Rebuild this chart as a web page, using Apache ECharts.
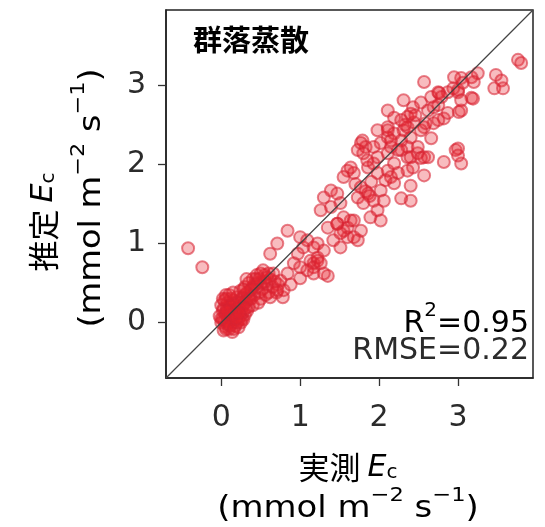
<!DOCTYPE html>
<html>
<head>
<meta charset="utf-8">
<script src="https://cdn.jsdelivr.net/npm/echarts@6/dist/echarts.min.js"></script>
<style>html,body{margin:0;padding:0;background:#fff;}#c{width:545px;height:527px;}</style>
</head>
<body>
<div id="c"></div>
<script>
// Axis range (both axes) and ticks
const axisMin = -0.7;
const axisMax = 3.95;
const tickValues = [0, 1, 2, 3];

const titleText = '群落蒸散';
const r2Text = '0.95';
const rmseText = '0.22';

// measured (x) vs estimated (y) Ec, mmol m-2 s-1
const blobPoints = [
  [0.02,0.05],[0.05,0.12],[0.08,0.02],[0.10,0.18],[0.12,0.08],[0.15,0.00],[0.05,-0.05],[0.10,-0.08],
  [0.00,0.22],[0.04,0.28],[0.08,0.25],[0.14,0.15],[0.18,0.22],[0.20,0.10],[0.22,0.03],[0.18,-0.04],
  [0.25,0.15],[0.28,0.22],[0.30,0.10],[0.12,0.30],[0.20,0.32],[0.26,0.30],[0.32,0.28],[0.35,0.20],
  [0.38,0.30],[0.40,0.22],[0.42,0.35],[0.36,0.40],[0.45,0.45],[0.48,0.38],[0.50,0.50],[0.52,0.42],
  [0.44,0.55],[0.55,0.60],[0.58,0.48],[0.60,0.38],[0.65,0.45],[0.06,0.35],[0.02,0.15],[-0.02,0.08],
  [0.00,0.00],[0.03,-0.10],[0.14,-0.12],[0.22,-0.06],[0.26,0.05],[0.16,0.25],[0.24,0.40],[0.30,0.35],
  [0.10,0.12],[0.07,0.19],[0.13,0.04],[0.17,0.10],[0.19,0.17],[0.09,0.08],[0.04,0.02],[0.11,0.22],
  [0.23,0.20],[0.27,0.12],[0.33,0.15],[0.50,0.30],[0.56,0.35],[0.47,0.25],[0.62,0.55],[0.68,0.52],
  [0.72,0.48],[0.70,0.38],[0.78,0.32],[0.06,0.10],[0.12,0.14],[0.16,0.05],[0.08,-0.02],[0.20,0.26],
  [0.34,0.33],[0.40,0.45],[0.46,0.50],
  [0.00,0.05],[0.03,0.18],[0.06,0.30],[0.09,0.00],[0.12,0.20],[0.15,0.28],[0.18,0.12],[0.21,0.18],
  [0.24,0.25],[0.27,0.32],[0.30,0.25],[0.33,0.38],[0.36,0.30],[0.06,-0.08],[0.11,-0.04],[0.16,-0.08],
  [0.20,0.00],[0.24,0.08],[0.28,0.04],[0.31,0.18],[0.02,0.30],[0.10,0.35],[0.15,0.38],[0.30,0.45],
  [0.35,0.50],[0.40,0.55],[0.45,0.60],[0.50,0.62],[0.55,0.52],[0.60,0.62],[0.38,0.42],[0.42,0.48],
  [0.48,0.55],[0.28,0.42],[0.32,0.55],[0.25,0.00],[0.13,0.10],[0.07,0.14],[0.19,0.05],[0.23,0.12]
];
const lowPoints = [
  [-0.42,0.94],[-0.24,0.70],
  [0.84,1.16],[0.71,1.00],[0.62,0.87],[1.00,1.08],[1.04,0.95],[0.97,0.87],[0.92,0.75],[1.00,0.70],
  [1.13,0.78],[1.22,1.00],[1.30,0.91],[1.17,0.75],[1.22,0.78],[1.35,0.59],[1.00,0.56],[0.84,0.62],
  [0.75,0.53],[0.66,0.62],[0.53,0.66],[0.58,0.57],[0.71,0.41],[0.79,0.41],[0.62,0.32],[1.09,1.04],
  [1.17,0.95],[1.22,0.82],[1.17,0.70],[1.26,0.75],[1.09,0.66],[1.17,0.62],[1.30,0.62],[0.88,0.48],
  [1.35,1.20],[1.47,1.25],[1.55,1.16],[1.64,1.29],[1.60,1.08],[1.73,1.04],[1.42,1.04],[1.51,0.95],
  [1.55,1.33],[1.47,1.25],[1.60,1.20],[1.68,1.29],[1.77,1.16],[1.68,1.08],[1.51,1.13],[1.98,1.42],
  [1.89,1.33],[2.02,1.29],[1.30,1.58],[1.39,1.67],[1.47,1.63],[1.51,1.51],[1.39,1.46],[1.26,1.42]
];
const midPoints = [
  [1.79,2.30],[1.83,2.22],[1.73,2.18],[2.11,2.47],[2.19,2.39],[2.31,2.43],[2.40,2.34],[2.57,2.47],
  [2.69,2.52],[2.02,2.27],[2.15,2.22],[2.11,2.14],[2.24,2.18],[2.36,2.22],[2.49,2.14],[2.57,2.09],
  [2.36,2.09],[2.97,2.18],[2.36,1.92],[2.57,1.86],[2.40,1.73],[2.40,1.54],[2.28,1.57],[1.60,1.92],
  [1.68,1.89],[1.55,1.84],[1.64,1.96],[1.86,1.96],[1.93,2.01],[1.98,1.89],[2.11,1.92],[2.15,1.84],
  [2.24,1.89],[2.19,1.76],[1.77,1.71],[1.86,1.63],[1.73,1.58],[1.93,1.54],[2.02,1.67],[2.06,1.54],
  [1.80,1.51],[1.77,2.27],[1.80,2.14],[1.93,2.22],[1.98,2.09],[2.28,2.30],[2.11,2.34],[1.98,2.43],
  [1.83,1.66],[1.88,1.60],[1.70,1.75],[2.08,1.80],[1.90,1.78],[1.85,2.05]
];
const highPoints = [
  [3.76,3.32],[3.80,3.28],[3.48,3.13],[3.55,3.06],[3.46,2.96],[3.57,2.96],[3.25,3.15],[3.17,3.10],
  [3.20,3.04],[3.04,3.09],[3.06,3.03],[3.00,2.91],[2.94,2.96],[2.87,2.91],[3.17,2.84],[3.04,2.81],
  [3.01,2.66],[2.82,2.58],[2.75,2.56],[2.57,3.04],[2.31,2.81],[2.43,2.72],[2.53,2.78],[2.62,2.68],
  [2.69,2.72],[2.66,2.85],[2.76,2.90],[2.11,2.68],[2.19,2.59],[2.28,2.56],[2.36,2.47],[2.44,2.53],
  [2.53,2.43],[2.59,2.52],[2.66,2.33],[2.49,2.22],[2.40,2.09],[2.28,2.18],[2.15,2.30],[2.11,2.43],
  [2.19,2.01],[3.00,2.20],[2.82,2.03],[3.04,2.01],[2.43,1.96],[2.53,2.08],[2.95,3.10],[3.00,2.94],
  [2.75,2.91],[2.79,2.85],[2.75,2.75],[2.87,2.65],[3.19,2.83],[3.04,2.68],[3.00,2.11],[2.62,2.09],
  [2.36,2.60],[2.40,2.64],[2.33,2.50],[2.46,2.62]
];

const points = blobPoints.concat(lowPoints, midPoints, highPoints);

const FONT = '"DejaVu Sans", "Noto Sans CJK JP", sans-serif';
const CJK = '"Noto Sans CJK JP", sans-serif';
const textColor = '#2b2b2b';

const chart = echarts.init(document.getElementById('c'), null, {renderer: 'canvas'});

const rich = {
  n: {fontSize: 30, fontFamily: FONT, color: textColor, verticalAlign: 'bottom', lineHeight: 38},
  j: {fontSize: 31, fontFamily: CJK, color: textColor, verticalAlign: 'bottom', lineHeight: 38},
  e: {fontSize: 30, fontFamily: FONT, color: textColor, fontStyle: 'italic', verticalAlign: 'bottom', lineHeight: 38},
  sub: {fontSize: 20, fontFamily: FONT, color: textColor, verticalAlign: 'bottom', lineHeight: 32},
  sup: {fontSize: 20, fontFamily: FONT, color: textColor, verticalAlign: 'top', lineHeight: 38}
};

const tickStyle = {show: true, length: 8, lineStyle: {color: '#333', width: 1.3}, customValues: tickValues};
const labelStyle = {fontSize: 30, fontFamily: FONT, color: textColor, margin: 14, customValues: tickValues};

const axisCommon = {
  type: 'value',
  min: axisMin,
  max: axisMax,
  splitLine: {show: false},
  axisLine: {show: true, onZero: false, lineStyle: {color: '#222', width: 1.5}},
  axisTick: tickStyle,
  axisLabel: labelStyle
};

const unitText = '{n|(mmol m}{sup|−2}{n| s}{sup|−1}{n|)}';

chart.setOption({
  animation: false,
  backgroundColor: '#fff',
  grid: {left: 166, top: 10, right: 12, bottom: 149, show: true, borderColor: '#222', borderWidth: 1.5, backgroundColor: 'transparent'},
  xAxis: Object.assign({}, axisCommon, {axisLabel: Object.assign({}, labelStyle, {margin: 25})}),
  yAxis: Object.assign({}, axisCommon, {axisLabel: Object.assign({}, labelStyle, {margin: 20})}),
  series: [
    {
      type: 'line',
      data: [[axisMin, axisMin], [axisMax, axisMax]],
      symbol: 'none',
      lineStyle: {color: '#444', width: 1.2},
      z: 3,
      silent: true
    },
    {
      type: 'scatter',
      data: points,
      symbol: 'circle',
      symbolSize: 12,
      itemStyle: {
        color: 'rgba(232,35,45,0.38)',
        borderColor: 'rgba(215,35,50,0.72)',
        borderWidth: 2
      },
      z: 2
    }
  ],
  graphic: [
    {
      type: 'text', left: 193, top: 25,
      style: {text: titleText, fontSize: 29, fontWeight: 'bold', fontFamily: CJK, fill: '#000'}
    },
    {
      type: 'text', right: 16, top: 301,
      style: {
        text: '{n|R}{sup|2}{n|=' + r2Text + '}',
        rich: rich, align: 'right'
      }
    },
    {
      type: 'text', right: 16, top: 336,
      style: {text: 'RMSE=' + rmseText, fontSize: 30, fontFamily: FONT, fill: textColor, align: 'right'}
    },
    {
      type: 'text', x: 348, y: 464,
      style: {
        text: '{j|実測 }{e|E}{sub|c}',
        rich: rich, align: 'center', verticalAlign: 'middle'
      }
    },
    {
      type: 'text', x: 348, y: 505, scaleX: 1.13,
      style: {
        text: unitText,
        rich: rich, align: 'center', verticalAlign: 'middle'
      }
    },
    {
      type: 'text', x: 40, y: 222, rotation: Math.PI / 2,
      style: {
        text: '{j|推定 }{e|E}{sub|c}',
        rich: rich, align: 'center', verticalAlign: 'middle'
      }
    },
    {
      type: 'text', x: 88, y: 198, rotation: Math.PI / 2, scaleX: 1.12,
      style: {
        text: unitText,
        rich: rich, align: 'center', verticalAlign: 'middle'
      }
    }
  ]
});
</script>
</body>
</html>
